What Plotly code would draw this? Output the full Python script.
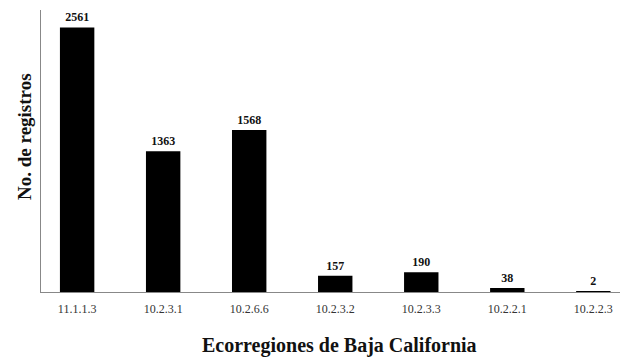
import plotly.graph_objects as go

categories = ["11.1.1.3", "10.2.3.1", "10.2.6.6", "10.2.3.2", "10.2.3.3", "10.2.2.1", "10.2.2.3"]
registros = [2561, 1363, 1568, 157, 190, 38, 2]
x_title = "Ecorregiones de Baja California"
y_title = "No. de registros"

serif = "Liberation Serif, Times New Roman, serif"

fig = go.Figure()
fig.add_trace(go.Bar(
    x=categories,
    y=registros,
    width=0.4,
    marker=dict(color="black", line=dict(width=0)),
    text=[f"<b>{v}</b>" for v in registros],
    textposition="outside",
    textfont=dict(family=serif, size=12, color="#111"),
    cliponaxis=False,
))

fig.update_layout(
    width=621, height=358,
    margin=dict(l=41, r=1, t=10, b=66),
    paper_bgcolor="white", plot_bgcolor="white",
    showlegend=False,
    font=dict(family=serif, color="black"),
    xaxis=dict(
        type="category",
        range=[-0.42, 6.31],
        automargin=False,
        showline=True, linecolor="#888", linewidth=1,
        showgrid=False, ticks="",
        ticklabelstandoff=6,
        tickfont=dict(family=serif, size=12, color="#333"),
    ),
    yaxis=dict(
        range=[0, 2730],
        automargin=False,
        showline=True, linecolor="#888", linewidth=1,
        showgrid=False, showticklabels=False, ticks="", zeroline=False,
    ),
    annotations=[
        dict(text=f"<b>{x_title}</b>", xref="paper", yref="paper",
             x=0.515, y=-0.19, xanchor="center", yanchor="middle", showarrow=False,
             font=dict(family=serif, size=20, color="#111")),
        dict(text=f"<b>{y_title}</b>", xref="paper", yref="paper",
             x=-0.006, y=0.55, xanchor="right", yanchor="middle", textangle=-90,
             showarrow=False, font=dict(family=serif, size=19, color="#111")),
    ],
)

fig.write_html(
    "out.html",
    config={"displayModeBar": False},
    post_script="document.body.style.margin='0';document.body.style.overflow='hidden';",
)
